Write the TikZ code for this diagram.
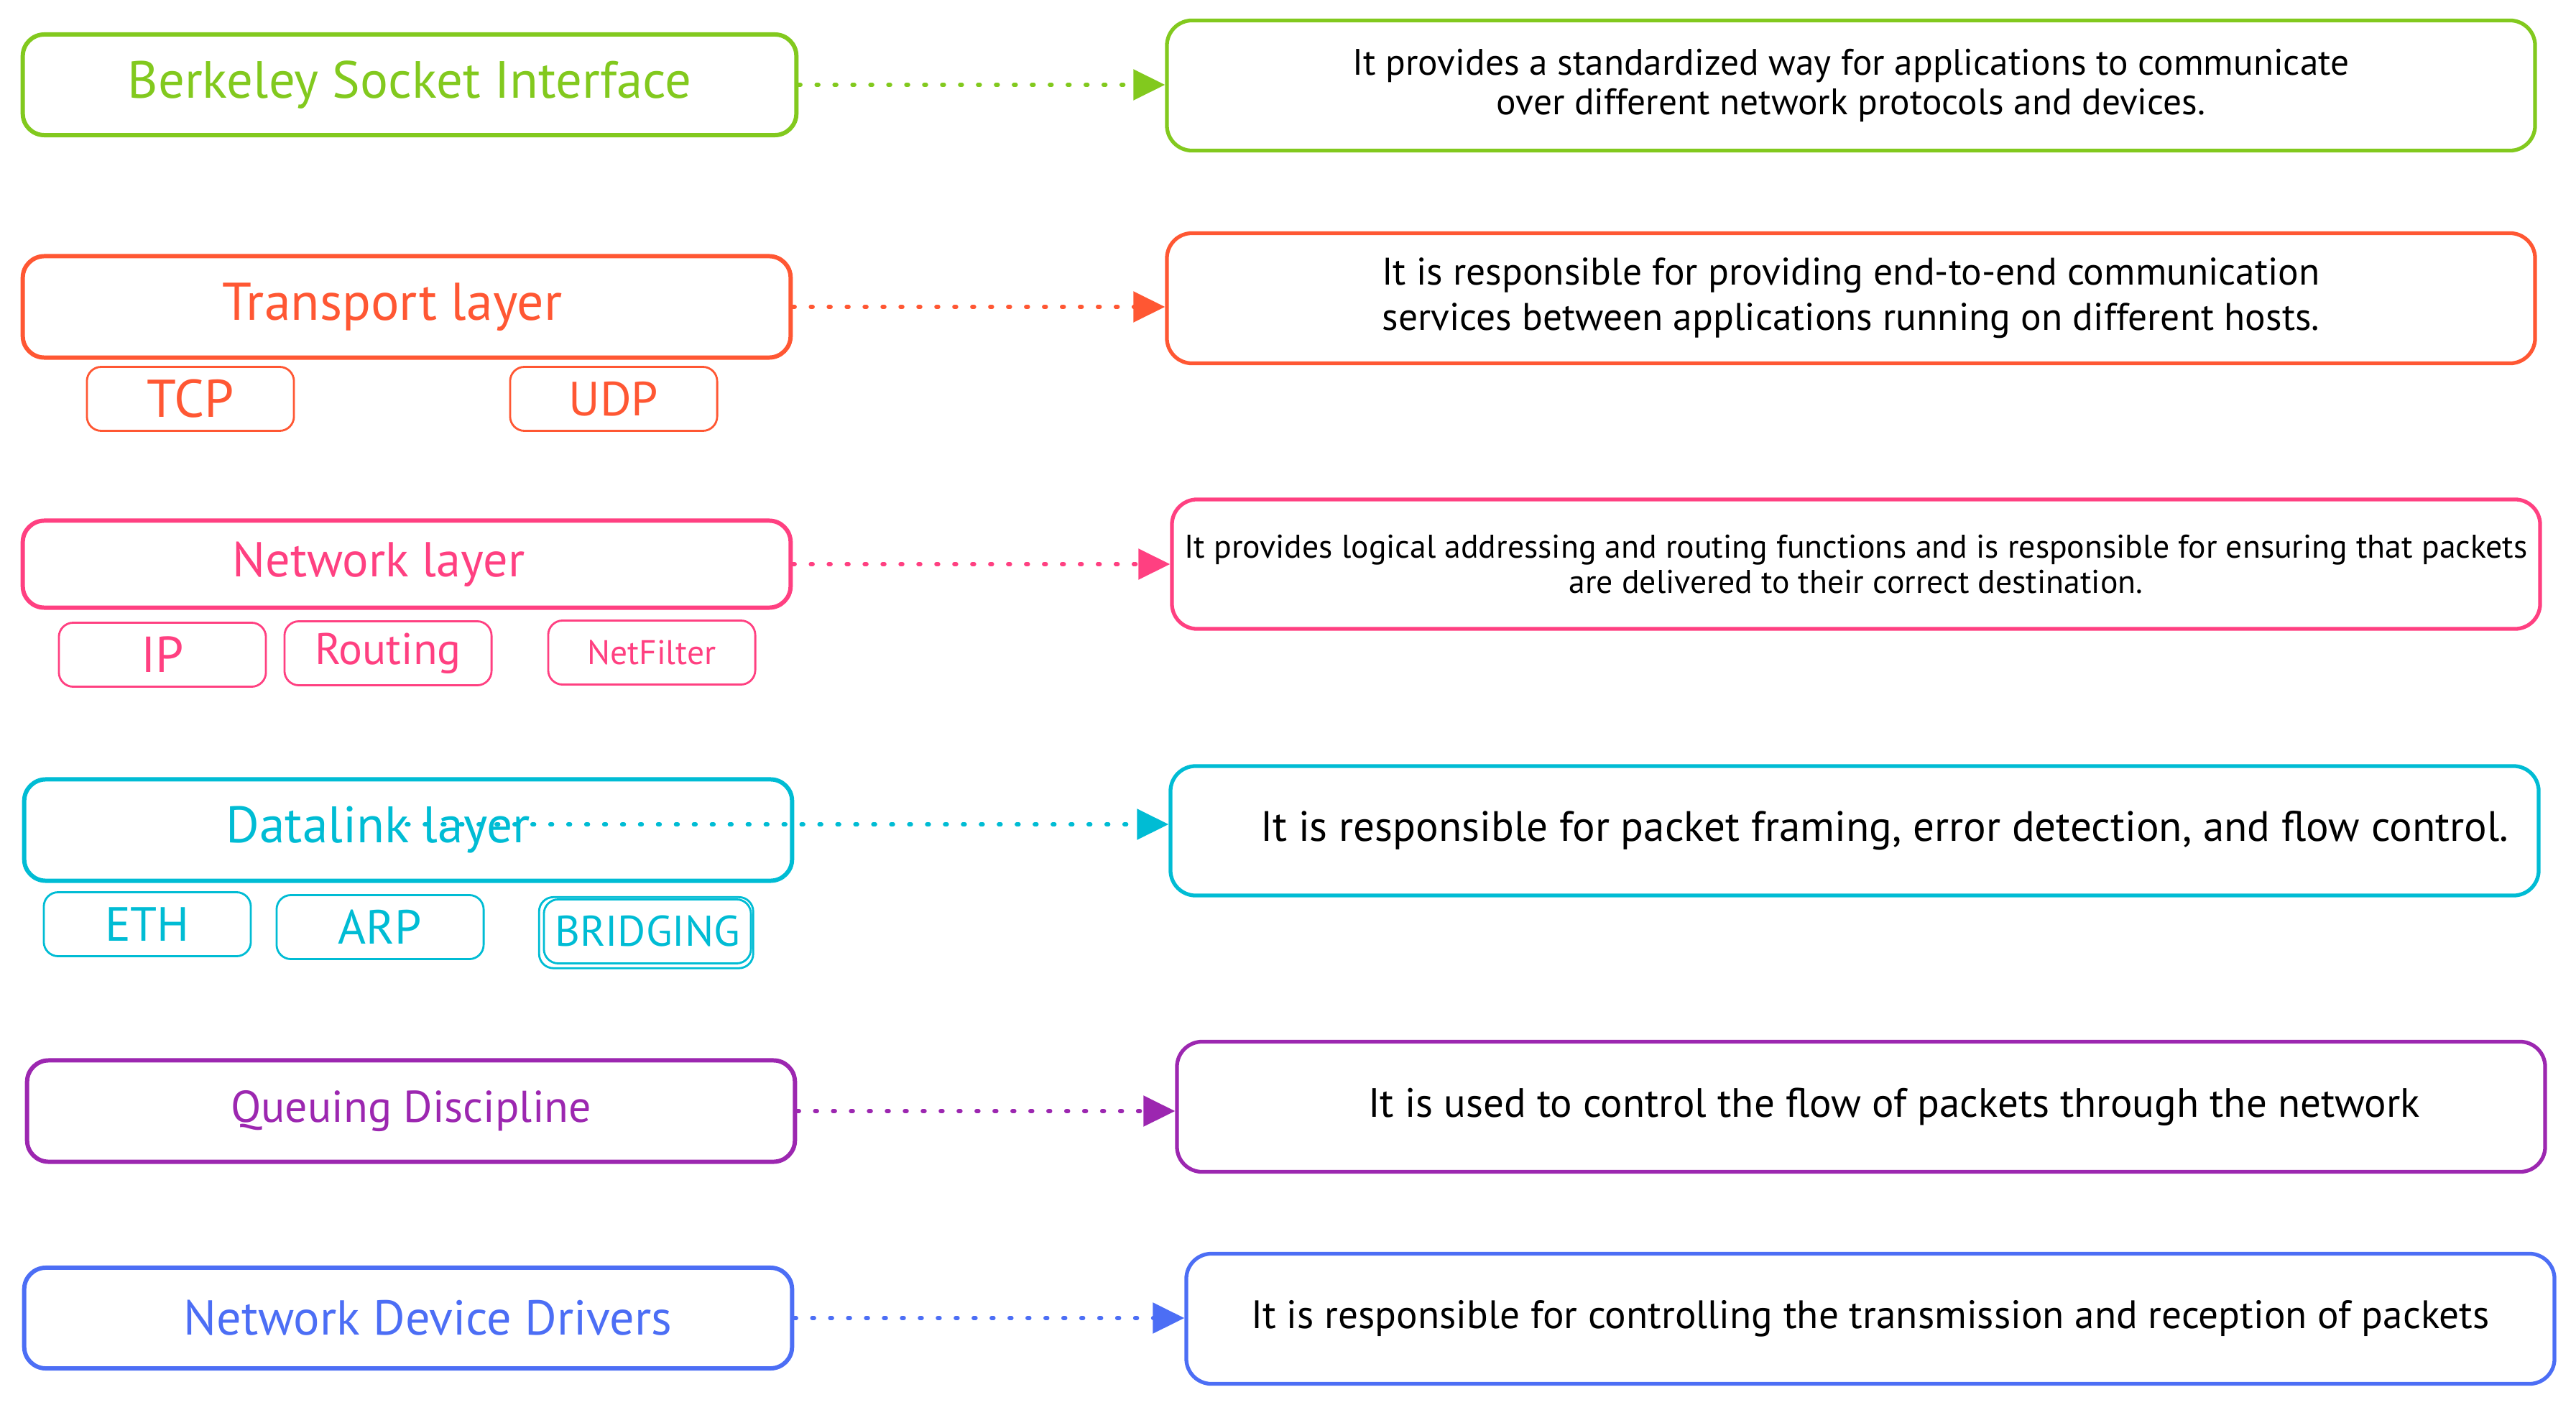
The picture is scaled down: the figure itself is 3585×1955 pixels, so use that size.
\documentclass[tikz,border=0pt]{standalone}
\usepackage{fontspec}
\setmainfont{PT Sans}
\usetikzlibrary{arrows.meta}

\definecolor{sockgreen}{HTML}{82C91E}
\definecolor{transred}{HTML}{FF5733}
\definecolor{netpink}{HTML}{FF4081}
\definecolor{linkcyan}{HTML}{00BCD4}
\definecolor{qdpurple}{HTML}{9C27B0}
\definecolor{drvblue}{HTML}{4C6EF5}

\begin{document}
\begin{tikzpicture}[x=0.01cm, y=-0.01cm,
layer/.style = {draw=#1, text=#1, line width=1.7pt, rounded corners=0.3cm, minimum width=10.68cm, minimum height=1.41cm, inner sep=0pt, font=\fontsize{20}{22}\selectfont},
proto/.style = {draw=#1, text=#1, line width=0.8pt, rounded corners=0.2cm, minimum width=2.88cm, minimum height=0.89cm, inner sep=0pt, font=\fontsize{19}{21}\selectfont},
desc/.style = {draw=#1, text=black, line width=1.5pt, rounded corners=0.35cm, minimum width=19.03cm, minimum height=1.81cm, inner sep=0pt, align=center, font=\fontsize{16}{18}\selectfont},
link/.style = {draw=#1, line width=1.6pt, line cap=round, dash pattern=on 0.8pt off 6.3pt, -{Triangle[length=0.44cm, width=0.42cm]}}]
\useasboundingbox (0,0) rectangle (3585,1955);

    % stack of layers
    \node[layer=sockgreen, minimum width=10.76cm, minimum height=1.40cm, font=\fontsize{20.7}{22}\selectfont] (bsi) at (570,118) {Berkeley Socket Interface};
    \node[layer=transred, font=\fontsize{21}{22}\selectfont] (tl) at (566,427) {Transport layer\hspace*{0.4cm}};
    \node[layer=netpink, minimum height=1.21cm, font=\fontsize{19.4}{22}\selectfont] (nl) at (566,785) {Network layer\hspace*{0.78cm}};
    \node[layer=linkcyan, font=\fontsize{20.3}{22}\selectfont] (dl) at (568,1155) {Datalink layer\hspace*{0.83cm}};
    \node[layer=qdpurple, font=\fontsize{17.6}{20}\selectfont] (qd) at (572,1546) {Queuing Discipline};
    \node[layer=drvblue, minimum height=1.40cm, font=\fontsize{19.4}{22}\selectfont] (ndd) at (568,1834) {\hspace*{0.55cm}Network Device Drivers};

    \node[proto=transred, font=\fontsize{21}{23}\selectfont] (tcp) at (265,555) {TCP};
    \node[proto=transred] (udp) at (854,555) {UDP};
    \node[proto=netpink, font=\fontsize{20}{22}\selectfont] (ip) at (226,911) {IP};
    \node[proto=netpink, font=\fontsize{17.5}{20}\selectfont] (rt) at (540,909) {Routing};
    \node[proto=netpink, font=\fontsize{13.5}{15}\selectfont] (nf) at (907,908) {NetFilter};
    \node[proto=linkcyan] (eth) at (205,1286) {ETH};
    \node[proto=linkcyan] (arp) at (529,1290) {ARP};
    \node[proto=linkcyan, font=\fontsize{17}{19}\selectfont] (br) at (901,1296) {BRIDGING};
    \draw[linkcyan, line width=0.8pt, rounded corners=0.2cm]
    ([xshift=-1.5pt,yshift=-1.5pt]br.south west) rectangle ([xshift=0.5pt,yshift=0.5pt]br.north east);

    % what each layer does
    \node[desc=sockgreen, font=\fontsize{14.6}{15.6}\selectfont] (bsid) at (2576,119)
    {It provides a standardized way for applications to communicate\\over different network protocols and devices.};
    \node[desc=transred, font=\fontsize{15.2}{17.9}\selectfont] (tld) at (2576,415)
    {It is responsible for providing end-to-end communication\\services between applications running on different hosts.};
    \node[desc=netpink, minimum height=1.80cm, font=\fontsize{13}{14}\selectfont] (nld) at (2583,785)
    {It provides logical addressing and routing functions and is responsible for ensuring that packets\\are delivered to their correct destination.};
    \node[desc=linkcyan, minimum height=1.80cm, font=\fontsize{16.8}{18}\selectfont] (dld) at (2581,1156)
    {\hspace*{0.83cm}It is responsible for packet framing, error detection, and flow control.};
    \node[desc=qdpurple, font=\fontsize{16.2}{18}\selectfont] (qdd) at (2590,1540)
    {\hspace*{0.92cm}It is used to control the flow of packets through the network};
    \node[desc=drvblue, font=\fontsize{15.7}{18}\selectfont] (nddd) at (2603,1835)
    {It is responsible for controlling the transmission and reception of packets};

    \coordinate (dlstart) at (566,1147);

    \draw[link=sockgreen] (bsi.east) -- (bsi.east -| bsid.west);
    \draw[link=transred] (tl.east) -- (tl.east -| tld.west);
    \draw[link=netpink] (nl.east) -- (nl.east -| nld.west);
    \draw[link=linkcyan] (dlstart) -- (dlstart -| dld.west);
    \draw[link=qdpurple] (qd.east) -- (qd.east -| qdd.west);
    \draw[link=drvblue] (ndd.east) -- (ndd.east -| nddd.west);

\end{tikzpicture}
\end{document}
